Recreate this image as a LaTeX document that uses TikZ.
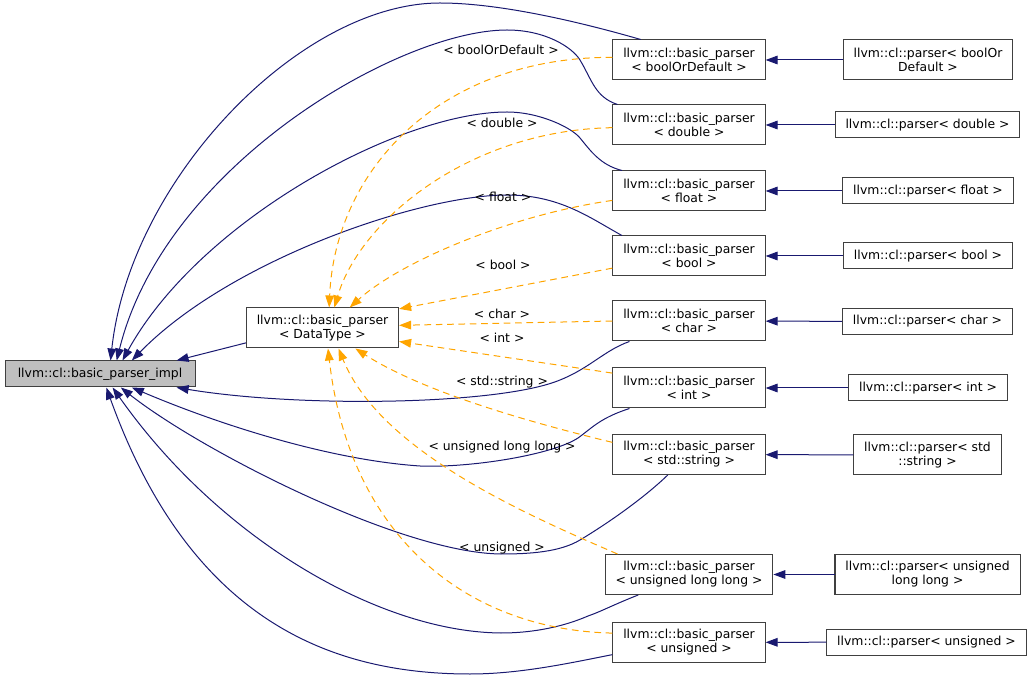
\documentclass[tikz,border=0pt]{standalone}
\usepackage{fontspec}
\setmainfont{DejaVu Sans}
\usetikzlibrary{arrows.meta}
\definecolor{inhblue}{HTML}{191970}
\definecolor{tplorange}{HTML}{FFA500}
\definecolor{implgray}{HTML}{BFBFBF}
\begin{document}
\begin{tikzpicture}[x=0.75pt,y=-0.75pt,
    cls/.style={draw=black!75,line width=0.75pt,fill=white,align=center,inner xsep=7.8pt,inner ysep=2pt,minimum height=30pt,font=\fontsize{9.3}{10.5}\selectfont},
    pcls/.style={cls,minimum height=19.5pt},
    inh/.style={draw=inhblue,line width=0.75pt,-{Triangle[length=9pt,width=6.5pt]}},
    tpl/.style={draw=tplorange,line width=0.75pt,dash pattern=on 5pt off 3.5pt,-{Triangle[length=9pt,width=6.5pt]}},
    lbl/.style={font=\fontsize{9.3}{10.5}\selectfont,inner sep=1pt}]
    \useasboundingbox (0,0) rectangle (1035,680);

    \node[pcls,fill=implgray,minimum width=142.5pt] (impl) at (100,374) {llvm::cl::basic\_parser\_impl};
    \node[cls] (dt) at (322.5,328) {llvm::cl::basic\_parser\\< DataType >};

    \node[cls] (bpbod) at (689,60) {llvm::cl::basic\_parser\\< boolOrDefault >};
    \node[cls] (bpdbl) at (689,125) {llvm::cl::basic\_parser\\< double >};
    \node[cls] (bpflt) at (689,191) {llvm::cl::basic\_parser\\< float >};
    \node[cls] (bpbool) at (689,256) {llvm::cl::basic\_parser\\< bool >};
    \node[cls] (bpchar) at (689,321) {llvm::cl::basic\_parser\\< char >};
    \node[cls] (bpint) at (689,388) {llvm::cl::basic\_parser\\< int >};
    \node[cls] (bpstr) at (689,454.5) {llvm::cl::basic\_parser\\< std::string >};
    \node[cls] (bpull) at (689,574.5) {llvm::cl::basic\_parser\\< unsigned long long >};
    \node[cls] (bpuns) at (689,642.5) {llvm::cl::basic\_parser\\< unsigned >};

    \node[cls] (pbod) at (928,60) {llvm::cl::parser< boolOr\\Default >};
    \node[pcls] (pdbl) at (927.5,125) {llvm::cl::parser< double >};
    \node[pcls] (pflt) at (928,191) {llvm::cl::parser< float >};
    \node[pcls] (pbool) at (928,256) {llvm::cl::parser< bool >};
    \node[pcls] (pchar) at (927.5,321.5) {llvm::cl::parser< char >};
    \node[pcls] (pint) at (928,388) {llvm::cl::parser< int >};
    \node[cls] (pstr) at (927.5,455) {llvm::cl::parser< std\\::string >};
    \node[cls] (pull) at (927.5,574.5) {llvm::cl::parser< unsigned\\long long >};
    \node[pcls] (puns) at (926.5,642) {llvm::cl::parser< unsigned >};

    \foreach \n in {bod,dbl,flt,bool,char,int,str,ull,uns} {
        \draw[inh] (p\n) -- (bp\n);
    }

    \draw[inh] (dt.191) -- (impl.10.5);
    \draw[inh] (bpbod.157) .. controls (580,22) and (500,3) .. (440,3)
        .. controls (300,3) and (130,180) .. (impl.52);
    \draw[inh] (bpdbl.164) .. controls (595,97) and (592,80) .. (580,60)
        .. controls (572,47) and (545,30) .. (507,30)
        .. controls (400,30) and (165,165) .. (impl.39);
    \draw[inh] (bpflt.163) .. controls (600,165) and (590,150) .. (580,138)
        .. controls (572,128) and (540,112) .. (507,112)
        .. controls (400,112) and (200,220) .. (impl.31);
    \draw[inh] (bpbool.163) .. controls (590,218) and (560,195) .. (507,195)
        .. controls (420,195) and (230,260) .. (impl.23);
    \draw[inh] (bpchar.199) .. controls (605,350) and (590,368) .. (560,380)
        .. controls (500,405) and (300,408) .. (impl.-10);
    \draw[inh] (bpint.199) .. controls (600,418) and (592,428) .. (578,438)
        .. controls (552,455) and (470,468) .. (420,466)
        .. controls (330,460) and (220,425) .. (impl.-23);
    \draw[inh] (bpstr.224) .. controls (645,497) and (610,522) .. (580,540)
        .. controls (560,552) and (530,554) .. (501,554)
        .. controls (400,553) and (200,450) .. (impl.-33);
    \draw[inh] (bpull.202) .. controls (615,604) and (600,612) .. (588,616)
        .. controls (565,626) and (535,633) .. (501,633)
        .. controls (380,632) and (220,540) .. (impl.-47);
    \draw[inh] (bpuns.189) .. controls (570,663) and (520,674) .. (470,674)
        .. controls (330,674) and (190,620) .. (impl.-65);

    \draw[tpl] (bpbod.178) .. controls (440,57) and (335,170) .. (dt.72);
    \draw[tpl] (bpdbl.182) .. controls (470,130) and (360,220) .. (dt.60);
    \draw[tpl] (bpflt.187) .. controls (510,215) and (400,262) .. (dt.37);
    \draw[tpl] (bpbool.189) -- (dt.14);
    \draw[tpl] (bpchar.180) -- (dt.2);
    \draw[tpl] (bpint.169) -- (dt.-10);
    \draw[tpl] (bpstr.171) .. controls (520,420) and (420,390) .. (dt.-32);
    \draw[tpl] (bpull.164) .. controls (520,512) and (380,450) .. (dt.-52);
    \draw[tpl] (bpuns.173) .. controls (470,630) and (350,540) .. (dt.-75);

    \node[lbl] (lbod) at (501,50) {< boolOrDefault >};
    \node[lbl] (ldbl) at (502,123) {< double >};
    \node[lbl] (lflt) at (503,197) {< float >};
    \node[lbl] (lbool) at (503,265) {< bool >};
    \node[lbl] (lchar) at (502,314) {< char >};
    \node[lbl] (lint) at (502,338) {< int >};
    \node[lbl] (lstr) at (502,382) {< std::string >};
    \node[lbl] (lull) at (502,447) {< unsigned long long >};
    \node[lbl] (luns) at (502,548) {< unsigned >};
\end{tikzpicture}
\end{document}
